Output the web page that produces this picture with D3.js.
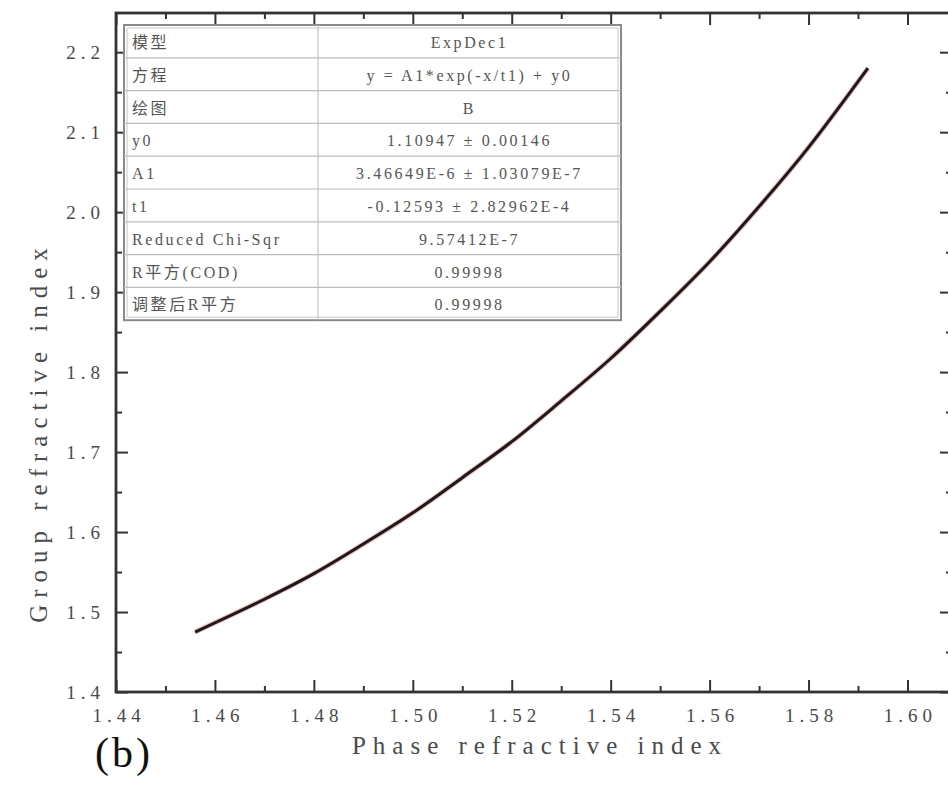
<!DOCTYPE html>
<html>
<head>
<meta charset="utf-8">
<script src="https://cdn.jsdelivr.net/npm/d3@7/dist/d3.min.js"></script>
<style>
  html, body { margin: 0; padding: 0; background: #fff; }
  svg { display: block; }
  .tick text { font-family: "Liberation Serif", "DejaVu Serif", serif; }
</style>
</head>
<body>
<svg id="chart" width="948" height="789"></svg>
<script>
// Phase index vs group index samples along the dispersion curve
const phaseIndex = [1.456, 1.47, 1.48, 1.49, 1.50, 1.51, 1.52, 1.53, 1.54, 1.55, 1.56, 1.57, 1.58, 1.592];
const groupIndex = [1.475, 1.516, 1.548, 1.585, 1.624, 1.668, 1.713, 1.764, 1.817, 1.876, 1.938, 2.007, 2.081, 2.180];

const xTicks = [1.44, 1.46, 1.48, 1.50, 1.52, 1.54, 1.56, 1.58, 1.60];
const yTicks = [1.4, 1.5, 1.6, 1.7, 1.8, 1.9, 2.0, 2.1, 2.2];

// Fit report rows (label, value)
const fitLabels = ["模型", "方程", "绘图", "y0", "A1", "t1", "Reduced Chi-Sqr", "R平方(COD)", "调整后R平方"];
const fitValues = ["ExpDec1", "y = A1*exp(-x/t1) + y0", "B", "1.10947 ± 0.00146",
  "3.46649E-6 ± 1.03079E-7", "-0.12593 ± 2.82962E-4", "9.57412E-7", "0.99998", "0.99998"];

const svg = d3.select("#chart");
const plotL = 116, plotR = 952, plotT = 13, plotB = 692;

const x = d3.scaleLinear().domain([1.44, 1.609]).range([plotL, plotR]);
const y = d3.scaleLinear().domain([1.4, 2.249]).range([plotB, plotT]);

const axisColor = "#333";
const textColor = "#4a4a4a";
const serif = "'Liberation Serif', 'Noto Sans CJK SC', serif";
const minorX = d3.range(1.45, 1.61, 0.02);
const minorY = d3.range(1.45, 2.25, 0.1);

function styleAxis(g) {
  g.select(".domain").remove();
  g.selectAll(".tick line").attr("stroke", axisColor).attr("stroke-width", 2);
}

// bottom axis with labels
svg.append("g").attr("transform", `translate(0,${plotB})`)
  .call(d3.axisBottom(x).tickValues(xTicks).tickSizeInner(-12).tickSizeOuter(0).tickPadding(17)
    .tickFormat(d3.format(".2f")))
  .call(styleAxis)
  .call(g => g.selectAll(".tick text").attr("font-size", 19).attr("fill", textColor)
    .attr("letter-spacing", 5).attr("dx", 2.5));
svg.append("g").attr("transform", `translate(0,${plotB})`)
  .call(d3.axisBottom(x).tickValues(minorX).tickSizeInner(-6).tickSizeOuter(0).tickFormat(""))
  .call(styleAxis);

// top axis ticks
svg.append("g").attr("transform", `translate(0,${plotT})`)
  .call(d3.axisTop(x).tickValues(xTicks).tickSizeInner(-12).tickSizeOuter(0).tickFormat(""))
  .call(styleAxis);
svg.append("g").attr("transform", `translate(0,${plotT})`)
  .call(d3.axisTop(x).tickValues(minorX).tickSizeInner(-6).tickSizeOuter(0).tickFormat(""))
  .call(styleAxis);

// left axis with labels
svg.append("g").attr("transform", `translate(${plotL},0)`)
  .call(d3.axisLeft(y).tickValues(yTicks).tickSizeInner(-12).tickSizeOuter(0).tickPadding(11)
    .tickFormat(d3.format(".1f")))
  .call(styleAxis)
  .call(g => g.selectAll(".tick text").attr("font-size", 19).attr("fill", textColor)
    .attr("letter-spacing", 5));
svg.append("g").attr("transform", `translate(${plotL},0)`)
  .call(d3.axisLeft(y).tickValues(minorY).tickSizeInner(-6).tickSizeOuter(0).tickFormat(""))
  .call(styleAxis);

// right axis ticks
svg.append("g").attr("transform", `translate(${plotR},0)`)
  .call(d3.axisRight(y).tickValues(yTicks).tickSizeInner(-12).tickSizeOuter(0).tickFormat(""))
  .call(styleAxis);
svg.append("g").attr("transform", `translate(${plotR},0)`)
  .call(d3.axisRight(y).tickValues(minorY).tickSizeInner(-6).tickSizeOuter(0).tickFormat(""))
  .call(styleAxis);

// frame
svg.append("rect").attr("x", plotL).attr("y", plotT)
  .attr("width", plotR - plotL).attr("height", plotB - plotT)
  .attr("fill", "none").attr("stroke", axisColor).attr("stroke-width", 2.8);

// fit table
const tbl = { x0: 124, x1: 621, xm: 318, y0: 25, rowH: 32.8 };
const tg = svg.append("g");
tg.append("rect").attr("x", tbl.x0).attr("y", tbl.y0)
  .attr("width", tbl.x1 - tbl.x0).attr("height", tbl.rowH * fitLabels.length)
  .attr("fill", "#fff").attr("stroke", "#8a8a8a").attr("stroke-width", 2);
tg.append("rect").attr("x", tbl.x0 + 3).attr("y", tbl.y0 + 3)
  .attr("width", tbl.x1 - tbl.x0 - 6).attr("height", tbl.rowH * fitLabels.length - 6)
  .attr("fill", "none").attr("stroke", "#c8c8c8").attr("stroke-width", 1);
tg.append("line").attr("x1", tbl.xm).attr("x2", tbl.xm)
  .attr("y1", tbl.y0).attr("y2", tbl.y0 + tbl.rowH * fitLabels.length)
  .attr("stroke", "#c4c4c4").attr("stroke-width", 1.2);
fitLabels.forEach((lab, i) => {
  const yy = tbl.y0 + tbl.rowH * i;
  if (i > 0) {
    tg.append("line").attr("x1", tbl.x0).attr("x2", tbl.x1).attr("y1", yy).attr("y2", yy)
      .attr("stroke", "#bdbdbd").attr("stroke-width", 1.2);
  }
  tg.append("text").attr("x", tbl.x0 + 8).attr("y", yy + tbl.rowH / 2 + 1)
    .attr("dominant-baseline", "central")
    .attr("font-family", serif).attr("font-size", 16).attr("letter-spacing", 2.6)
    .attr("fill", "#555").text(lab);
  tg.append("text").attr("x", (tbl.xm + tbl.x1) / 2).attr("y", yy + tbl.rowH / 2 + 1)
    .attr("dominant-baseline", "central").attr("text-anchor", "middle")
    .attr("font-family", serif).attr("font-size", 16).attr("letter-spacing", 2.6)
    .attr("fill", "#555").text(fitValues[i]);
});

// curve: fitted (red) under measured (black)
const pts = phaseIndex.map((p, i) => [p, groupIndex[i]]);
const line = d3.line().x(d => x(d[0])).y(d => y(d[1])).curve(d3.curveCatmullRom);
svg.append("path").datum(pts).attr("d", line)
  .attr("fill", "none").attr("stroke", "#e0707a").attr("stroke-width", 5).attr("opacity", 0.5);
svg.append("path").datum(pts).attr("d", line)
  .attr("fill", "none").attr("stroke", "#1a1a1a").attr("stroke-width", 3);

// axis titles
svg.append("text").attr("x", 540).attr("y", 754).attr("text-anchor", "middle")
  .attr("font-family", serif).attr("font-size", 25)
  .attr("letter-spacing", 7).attr("fill", textColor).text("Phase refractive index");
svg.append("text").attr("transform", "translate(47,432) rotate(-90)").attr("text-anchor", "middle")
  .attr("font-family", serif).attr("font-size", 25)
  .attr("letter-spacing", 7).attr("fill", textColor).text("Group refractive index");

// panel label
svg.append("text").attr("x", 95).attr("y", 767)
  .attr("font-family", serif).attr("font-size", 42).attr("letter-spacing", 3)
  .attr("fill", "#111").text("(b)");
</script>
</body>
</html>
